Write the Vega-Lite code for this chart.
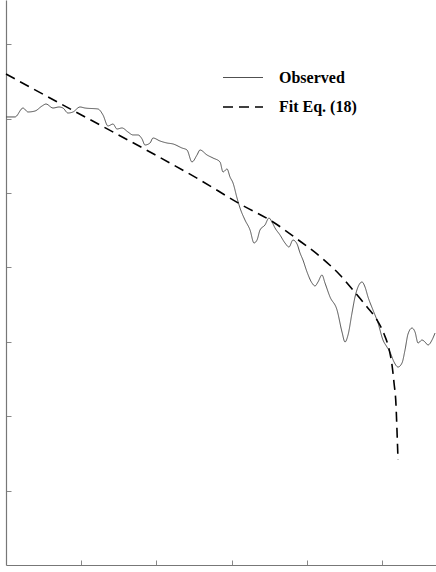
{
  "$schema": "https://vega.github.io/schema/vega-lite/v6.json",
  "width": 430,
  "height": 565,
  "autosize": {"type": "none"},
  "padding": {"left": 6, "top": 0, "right": 0, "bottom": 7},
  "background": "white",
  "config": {"view": {"stroke": null}},
  "data": {"values": [
    {"series": "Observed", "x": 0, "y": 6.022},
    {"series": "Observed", "x": 0.120, "y": 6.022},
    {"series": "Observed", "x": 0.226, "y": 6.142},
    {"series": "Observed", "x": 0.293, "y": 6.089},
    {"series": "Observed", "x": 0.386, "y": 6.102},
    {"series": "Observed", "x": 0.479, "y": 6.169},
    {"series": "Observed", "x": 0.532, "y": 6.196},
    {"series": "Observed", "x": 0.625, "y": 6.142},
    {"series": "Observed", "x": 0.705, "y": 6.156},
    {"series": "Observed", "x": 0.758, "y": 6.142},
    {"series": "Observed", "x": 0.824, "y": 6.075},
    {"series": "Observed", "x": 0.891, "y": 6.089},
    {"series": "Observed", "x": 0.984, "y": 6.156},
    {"series": "Observed", "x": 1.051, "y": 6.142},
    {"series": "Observed", "x": 1.223, "y": 6.129},
    {"series": "Observed", "x": 1.290, "y": 6.048},
    {"series": "Observed", "x": 1.356, "y": 5.901},
    {"series": "Observed", "x": 1.423, "y": 5.927},
    {"series": "Observed", "x": 1.476, "y": 5.860},
    {"series": "Observed", "x": 1.543, "y": 5.874},
    {"series": "Observed", "x": 1.622, "y": 5.820},
    {"series": "Observed", "x": 1.689, "y": 5.780},
    {"series": "Observed", "x": 1.755, "y": 5.780},
    {"series": "Observed", "x": 1.809, "y": 5.726},
    {"series": "Observed", "x": 1.848, "y": 5.645},
    {"series": "Observed", "x": 1.915, "y": 5.672},
    {"series": "Observed", "x": 1.955, "y": 5.739},
    {"series": "Observed", "x": 2.048, "y": 5.699},
    {"series": "Observed", "x": 2.141, "y": 5.672},
    {"series": "Observed", "x": 2.221, "y": 5.659},
    {"series": "Observed", "x": 2.340, "y": 5.605},
    {"series": "Observed", "x": 2.407, "y": 5.578},
    {"series": "Observed", "x": 2.473, "y": 5.417},
    {"series": "Observed", "x": 2.540, "y": 5.511},
    {"series": "Observed", "x": 2.580, "y": 5.578},
    {"series": "Observed", "x": 2.673, "y": 5.511},
    {"series": "Observed", "x": 2.753, "y": 5.470},
    {"series": "Observed", "x": 2.846, "y": 5.417},
    {"series": "Observed", "x": 2.886, "y": 5.282},
    {"series": "Observed", "x": 2.939, "y": 5.323},
    {"series": "Observed", "x": 2.979, "y": 5.215},
    {"series": "Observed", "x": 3.019, "y": 5.134},
    {"series": "Observed", "x": 3.072, "y": 4.933},
    {"series": "Observed", "x": 3.112, "y": 4.798},
    {"series": "Observed", "x": 3.178, "y": 4.637},
    {"series": "Observed", "x": 3.245, "y": 4.503},
    {"series": "Observed", "x": 3.298, "y": 4.328},
    {"series": "Observed", "x": 3.338, "y": 4.368},
    {"series": "Observed", "x": 3.378, "y": 4.503},
    {"series": "Observed", "x": 3.444, "y": 4.570},
    {"series": "Observed", "x": 3.497, "y": 4.664},
    {"series": "Observed", "x": 3.537, "y": 4.610},
    {"series": "Observed", "x": 3.577, "y": 4.530},
    {"series": "Observed", "x": 3.644, "y": 4.435},
    {"series": "Observed", "x": 3.710, "y": 4.328},
    {"series": "Observed", "x": 3.763, "y": 4.274},
    {"series": "Observed", "x": 3.816, "y": 4.368},
    {"series": "Observed", "x": 3.870, "y": 4.315},
    {"series": "Observed", "x": 3.910, "y": 4.194},
    {"series": "Observed", "x": 3.949, "y": 4.099},
    {"series": "Observed", "x": 4.003, "y": 3.938},
    {"series": "Observed", "x": 4.069, "y": 3.790},
    {"series": "Observed", "x": 4.109, "y": 3.750},
    {"series": "Observed", "x": 4.149, "y": 3.804},
    {"series": "Observed", "x": 4.202, "y": 3.898},
    {"series": "Observed", "x": 4.242, "y": 3.790},
    {"series": "Observed", "x": 4.309, "y": 3.602},
    {"series": "Observed", "x": 4.402, "y": 3.427},
    {"series": "Observed", "x": 4.468, "y": 3.132},
    {"series": "Observed", "x": 4.508, "y": 2.997},
    {"series": "Observed", "x": 4.548, "y": 3.091},
    {"series": "Observed", "x": 4.601, "y": 3.387},
    {"series": "Observed", "x": 4.641, "y": 3.602},
    {"series": "Observed", "x": 4.681, "y": 3.737},
    {"series": "Observed", "x": 4.734, "y": 3.804},
    {"series": "Observed", "x": 4.774, "y": 3.737},
    {"series": "Observed", "x": 4.814, "y": 3.602},
    {"series": "Observed", "x": 4.880, "y": 3.427},
    {"series": "Observed", "x": 4.947, "y": 3.253},
    {"series": "Observed", "x": 5.013, "y": 3.024},
    {"series": "Observed", "x": 5.066, "y": 2.930},
    {"series": "Observed", "x": 5.106, "y": 2.863},
    {"series": "Observed", "x": 5.160, "y": 2.728},
    {"series": "Observed", "x": 5.213, "y": 2.661},
    {"series": "Observed", "x": 5.266, "y": 2.715},
    {"series": "Observed", "x": 5.306, "y": 2.890},
    {"series": "Observed", "x": 5.346, "y": 3.105},
    {"series": "Observed", "x": 5.399, "y": 3.185},
    {"series": "Observed", "x": 5.439, "y": 3.132},
    {"series": "Observed", "x": 5.479, "y": 2.984},
    {"series": "Observed", "x": 5.532, "y": 3.024},
    {"series": "Observed", "x": 5.572, "y": 2.997},
    {"series": "Observed", "x": 5.612, "y": 2.957},
    {"series": "Observed", "x": 5.665, "y": 3.024},
    {"series": "Observed", "x": 5.705, "y": 3.118},
    {"series": "Fit Eq. (18)", "x": 0, "y": 6.599},
    {"series": "Fit Eq. (18)", "x": 0.585, "y": 6.277},
    {"series": "Fit Eq. (18)", "x": 1.250, "y": 5.914},
    {"series": "Fit Eq. (18)", "x": 1.915, "y": 5.551},
    {"series": "Fit Eq. (18)", "x": 2.580, "y": 5.175},
    {"series": "Fit Eq. (18)", "x": 3.112, "y": 4.852},
    {"series": "Fit Eq. (18)", "x": 3.551, "y": 4.610},
    {"series": "Fit Eq. (18)", "x": 3.870, "y": 4.382},
    {"series": "Fit Eq. (18)", "x": 4.215, "y": 4.113},
    {"series": "Fit Eq. (18)", "x": 4.441, "y": 3.898},
    {"series": "Fit Eq. (18)", "x": 4.614, "y": 3.696},
    {"series": "Fit Eq. (18)", "x": 4.801, "y": 3.468},
    {"series": "Fit Eq. (18)", "x": 4.934, "y": 3.293},
    {"series": "Fit Eq. (18)", "x": 5.027, "y": 3.105},
    {"series": "Fit Eq. (18)", "x": 5.093, "y": 2.903},
    {"series": "Fit Eq. (18)", "x": 5.133, "y": 2.688},
    {"series": "Fit Eq. (18)", "x": 5.160, "y": 2.446},
    {"series": "Fit Eq. (18)", "x": 5.186, "y": 2.151},
    {"series": "Fit Eq. (18)", "x": 5.199, "y": 1.815},
    {"series": "Fit Eq. (18)", "x": 5.213, "y": 1.411}
  ]},
  "mark": {"type": "line", "interpolate": "monotone"},
  "encoding": {
    "x": {
      "field": "x", "type": "quantitative",
      "scale": {"domain": [0, 5.718], "nice": false, "zero": false},
      "axis": {"title": null, "labels": false, "grid": false, "values": [1, 2, 3, 4, 5],
               "tickSize": -5, "tickColor": "#888", "domainColor": "#777", "domainWidth": 1.2}
    },
    "y": {
      "field": "y", "type": "quantitative",
      "scale": {"domain": [0, 7.594], "nice": false, "zero": false},
      "axis": {"title": null, "labels": false, "grid": false, "values": [1, 2, 3, 4, 5, 6, 7],
               "tickSize": -5, "tickColor": "#888", "domainColor": "#777", "domainWidth": 1.2}
    },
    "detail": {"field": "series"},
    "color": {
      "field": "series", "type": "nominal",
      "scale": {"domain": ["Observed", "Fit Eq. (18)"], "range": ["#505050", "#000000"]},
      "legend": {
        "title": null, "orient": "none", "legendX": 216, "legendY": 57,
        "symbolType": "stroke", "symbolSize": 1600, "symbolStrokeWidth": 1.5,
        "labelFont": "Liberation Serif", "labelFontSize": 16, "labelFontWeight": "bold",
        "labelColor": "#000", "labelOffset": 15, "rowPadding": -17, "padding": 0,
        "encode": {"symbols": {
          "enter": {"stroke": {"signal": "datum.value === 'Observed' ? '#aaaaaa' : '#000000'"}},
          "update": {"stroke": {"signal": "datum.value === 'Observed' ? '#aaaaaa' : '#000000'"}}
        }}
      }
    },
    "strokeDash": {
      "field": "series", "type": "nominal",
      "scale": {"domain": ["Observed", "Fit Eq. (18)"], "range": [[1, 0], [10, 6]]},
      "legend": null
    },
    "strokeWidth": {
      "field": "series", "type": "nominal",
      "scale": {"domain": ["Observed", "Fit Eq. (18)"], "range": [1, 1.6]},
      "legend": null
    }
  }
}
